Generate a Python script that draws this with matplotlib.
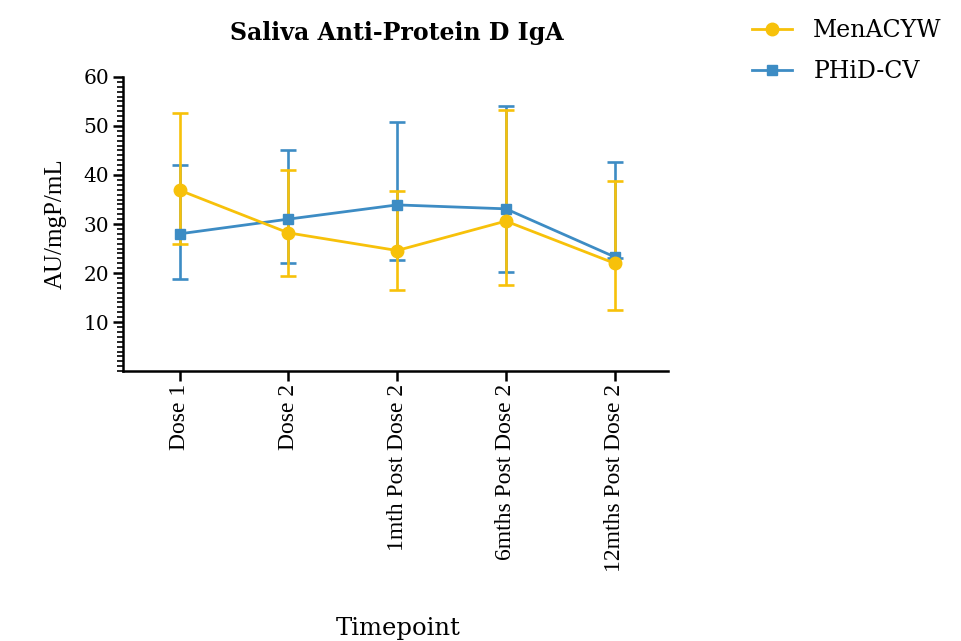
import numpy as np
import matplotlib.pyplot as plt
from matplotlib.ticker import MultipleLocator
from matplotlib.lines import Line2D

timepoints = ["Dose 1", "Dose 2", "1mth Post Dose 2", "6mths Post Dose 2", "12mths Post Dose 2"]

men_mean = [36.9, 28.2, 24.6, 30.6, 22.0]
men_upper = [52.7, 41.0, 36.7, 53.2, 38.8]
men_lower = [25.9, 19.4, 16.5, 17.6, 12.4]

phid_mean = [28.0, 31.0, 33.9, 33.1, 23.3]
phid_upper = [42.0, 45.1, 50.8, 54.1, 42.6]
phid_lower = [18.8, 22.0, 22.7, 20.2, 23.0]

yellow = "#F7C10A"
blue = "#3D8CC4"

# the source image is stretched sideways, so horizontal text uses the wider serif
wide = ['DejaVu Serif']
narrow = ['Liberation Serif', 'DejaVu Serif']
plt.rcParams['font.family'] = narrow

fig = plt.figure(figsize=(9.61, 6.41), dpi=100)
ax = fig.add_axes([0.128, 0.421, 0.567, 0.459])

x = np.arange(len(timepoints))

def draw(mean, upper, lower, color, marker, ms):
    mean = np.array(mean)
    err = [mean - np.array(lower), np.array(upper) - mean]
    ax.errorbar(x, mean, yerr=err, color=color, marker=marker, markersize=ms,
                linewidth=2.0, elinewidth=1.9, capsize=6, capthick=1.9)

draw(phid_mean, phid_upper, phid_lower, blue, "s", 7)
draw(men_mean, men_upper, men_lower, yellow, "o", 9)

ax.set_xlim(-0.52, 4.49)
ax.set_ylim(0, 60)
ax.set_yticks([10, 20, 30, 40, 50, 60])
ax.yaxis.set_minor_locator(MultipleLocator(1))
ax.set_xticks(x)
ax.set_xticklabels(timepoints, rotation=90, fontsize=17)
ax.tick_params(axis='y', labelsize=14.5, width=1.8, length=7, pad=3)
ax.tick_params(axis='y', which='minor', width=1.2, length=4)
ax.tick_params(axis='x', width=1.8, length=7, pad=2)
for lab in ax.get_yticklabels():
    lab.set_family(wide)

for side in ["top", "right"]:
    ax.spines[side].set_visible(False)
for side in ["left", "bottom"]:
    ax.spines[side].set_linewidth(1.8)

ax.set_ylabel("AU/mgP/mL", fontsize=18, labelpad=12)
fig.text(0.414, 1 - 628 / 641, "Timepoint", fontsize=17.5, family=wide,
         ha="center", va="center")
fig.text(0.413, 1 - 33 / 641, "Saliva Anti-Protein D IgA", fontsize=17, family=wide,
         fontweight="bold", ha="center", va="center")

handles = [
    Line2D([], [], color=yellow, marker="o", markersize=9, linewidth=2.0),
    Line2D([], [], color=blue, marker="s", markersize=7, linewidth=2.0),
]
fig.legend(handles, ["MenACYW", "PHiD-CV"], loc="upper left", bbox_to_anchor=(0.7825, 0.97),
           frameon=False, handlelength=1.7, handletextpad=0.9, labelspacing=0.75,
           borderaxespad=0, borderpad=0, prop={'family': wide, 'size': 17})

fig.savefig("out.png", dpi=100)
